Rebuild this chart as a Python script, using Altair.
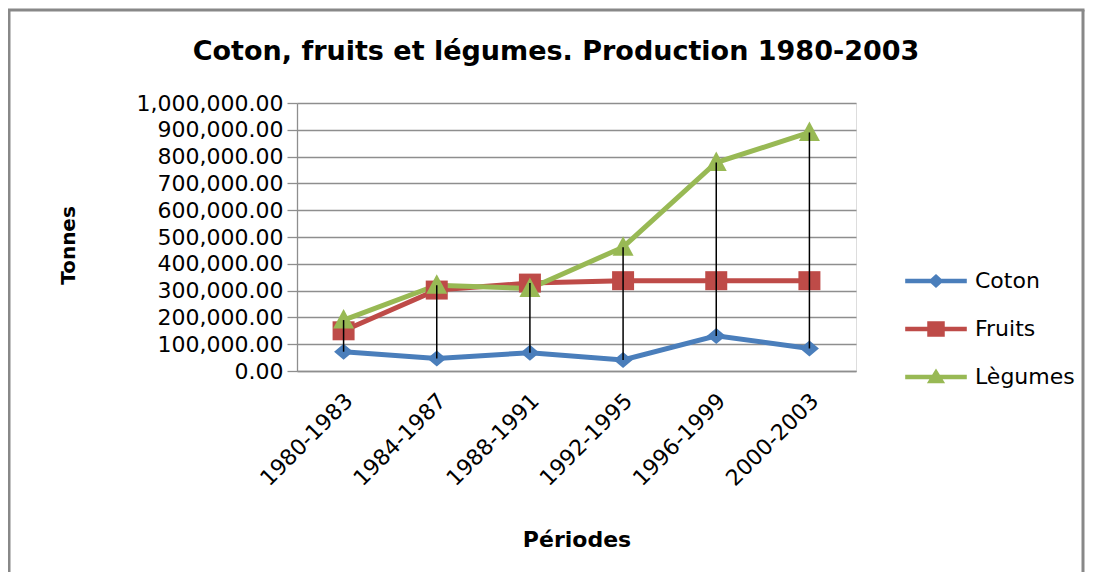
import altair as alt
import pandas as pd

periodes = ["1980-1983", "1984-1987", "1988-1991", "1992-1995", "1996-1999", "2000-2003"]
coton = [72000, 47000, 68000, 41000, 131000, 84000]
fruits = [150000, 302000, 328000, 337000, 337000, 337000]
legumes = [190000, 320000, 308000, 462000, 778000, 890000]
series_names = ["Coton", "Fruits", "Lègumes"]
series_colors = ["#4A7EBB", "#BE4B48", "#98B954"]
y_ticks = [0, 100000, 200000, 300000, 400000, 500000, 600000, 700000, 800000, 900000, 1000000]
chart_title = "Coton, fruits et légumes. Production 1980-2003"

rows = []
for name, vals in zip(series_names, [coton, fruits, legumes]):
    for p, v in zip(periodes, vals):
        rows.append({"Période": p, "Série": name, "Tonnes": v})
df = pd.DataFrame(rows)

FONT = "DejaVu Sans"
GRID = "#8e8e8e"

x_axis = alt.Axis(title="Périodes", labelAngle=-45, labelAlign="right", labelBaseline="middle",
                  labelPadding=26, labelOffset=5, ticks=False, domainColor=GRID, domainWidth=1.3,
                  grid=False, labelFont=FONT, labelFontSize=22, labelColor="black",
                  titleFont=FONT, titleFontSize=22, titleFontWeight="bold", titleColor="black",
                  titleY=168, titleBaseline="middle")
y_axis = alt.Axis(title="Tonnes", values=y_ticks, format=",.2f", grid=True, gridColor=GRID,
                  gridWidth=1.3, domainColor=GRID, domainWidth=1.3, tickColor=GRID, tickSize=10,
                  tickWidth=1.3, labelPadding=4, labelFont=FONT, labelFontSize=22, labelColor="black",
                  titleFont=FONT, titleFontSize=20, titleFontWeight="bold", titleColor="black",
                  titleX=-229, titleY=142, titleBaseline="middle", titleAlign="center")

x_scale = alt.Scale(type="point", padding=0.5)
y_scale = alt.Scale(domain=[0, 1000000], nice=False)
color_scale = alt.Scale(domain=series_names, range=series_colors)

def X():
    return alt.X("Période:N", sort=periodes, scale=x_scale, axis=x_axis)

def Y(field="Tonnes:Q"):
    return alt.Y(field, scale=y_scale, axis=y_axis)

base = alt.Chart(df)

# legend-only layer (no drawn data)
legend_paths = [
    "M-4.4,-0.33L4.4,-0.33L4.4,0.33L-4.4,0.33Z M0,-1L1.1,0L0,1L-1.1,0Z",
    "M-4.4,-0.33L4.4,-0.33L4.4,0.33L-4.4,0.33Z M-1.25,-1.1L1.25,-1.1L1.25,1.1L-1.25,1.1Z",
    "M-4.4,-0.33L4.4,-0.33L4.4,0.33L-4.4,0.33Z M0,-1.2L1.3,0.9L-1.3,0.9Z",
]
leg = alt.Legend(title=None, orient="none", legendX=628, legendY=167, symbolSize=196,
                 symbolStrokeWidth=0, symbolOpacity=1, labelFont=FONT, labelFontSize=22,
                 labelColor="black", labelOffset=28, rowPadding=26, padding=0)
legend_layer = base.transform_filter("false").mark_point(filled=True, opacity=1, strokeWidth=0).encode(
    x=X(), y=Y(),
    color=alt.Color("Série:N", scale=color_scale, legend=leg),
    shape=alt.Shape("Série:N", scale=alt.Scale(domain=series_names, range=legend_paths), legend=leg),
)

lines = base.mark_line(strokeWidth=5).encode(
    x=X(), y=Y(), color=alt.Color("Série:N", scale=color_scale, legend=None),
    detail="Série:N",
)

shape_paths = {
    "Coton": "M0,-0.8L0.95,0L0,0.8L-0.95,0Z",
    "Fruits": "M-1.1,-0.95L1.1,-0.95L1.1,0.95L-1.1,0.95Z",
    "Lègumes": "M0,-1.1L1.05,0.85L-1.05,0.85Z",
}
point_layers = []
for name in series_names:
    point_layers.append(
        base.transform_filter(alt.datum["Série"] == name)
        .mark_point(filled=True, opacity=1, strokeWidth=0, shape=shape_paths[name], size=400)
        .encode(x=X(), y=Y(), color=alt.Color("Série:N", scale=color_scale, legend=None))
    )

hilo = base.transform_aggregate(
    lo="min(Tonnes)", hi="max(Tonnes)", groupby=["Période"]
).mark_rule(color="black", strokeWidth=1.5).encode(
    x=X(), y=Y("lo:Q"), y2="hi:Q"
)

frame_data = alt.Data(values=[{"k": 0}])
frame_left = alt.Chart(frame_data).mark_rule(color="#888888", strokeWidth=3).encode(
    x=alt.value(-288), y=alt.value(-93), y2=alt.value(480))
frame_top = alt.Chart(frame_data).mark_rule(color="#888888", strokeWidth=3).encode(
    x=alt.value(-289.5), x2=alt.value(787.5), y=alt.value(-93))
frame_right = alt.Chart(frame_data).mark_rule(color="#888888", strokeWidth=3).encode(
    x=alt.value(786), y=alt.value(-93), y2=alt.value(480))

title_text = alt.Chart(frame_data).mark_text(
    text=chart_title, font=FONT, fontSize=27, fontWeight="bold", color="black",
    align="center", baseline="middle"
).encode(x=alt.value(259), y=alt.value(-51))

chart = alt.layer(
    legend_layer, lines, *point_layers, hilo, frame_left, frame_top, frame_right, title_text
).properties(
    width=559, height=268,
    autosize=alt.AutoSizeParams(type="none"),
    padding={"left": 289, "top": 95, "right": 229, "bottom": 201},
).configure_view(stroke=None).configure(background="white")

chart.save("out.html", embed_options={"renderer": "svg", "actions": False})
